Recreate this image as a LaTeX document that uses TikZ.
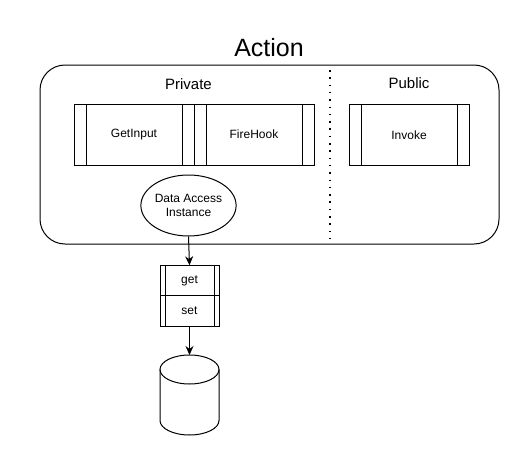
\documentclass[tikz,border=0pt]{standalone}
\usepackage{fontspec}
\setmainfont{Liberation Sans}
\usetikzlibrary{arrows.meta,positioning,shapes.geometric}

\begin{document}
\begin{tikzpicture}[x=1pt,y=-1pt]
\tikzset{process/.style={draw, line width=1pt, outer sep=0pt, minimum width=120pt, minimum height=61pt,
inner sep=0pt, font=\fontsize{12}{14}\selectfont,
path picture={\draw[line width=1pt]
([xshift=#1]path picture bounding box.north west) -- ([xshift=#1]path picture bounding box.south west)
([xshift=-#1]path picture bounding box.north east) -- ([xshift=-#1]path picture bounding box.south east);}}}
\tikzset{process/.default=12pt}
\tikzset{heading/.style={anchor=base, font=\fontsize{15}{18}\selectfont}}
\tikzset{link/.style={draw, line width=1pt, -{Stealth[length=9pt,width=8pt]}}}
\useasboundingbox (0,0) rectangle (525,450);
\node[draw, line width=1pt, rounded corners=25pt, minimum width=459pt,
minimum height=179pt] (action) at (269.5,154.5) {};
\node[anchor=base, font=\fontsize{25}{30}\selectfont] (title) at (269,56) {Action};
\node[heading] (private) at (188.5,89) {Private};
\node[heading] (public) at (409,88.5) {Public};
\coordinate (divtop) at (330,70);
\coordinate (divbot) at (330,240);
\draw[line width=1.2pt, dash pattern=on 1.5pt off 5.8pt] (divtop) -- (divbot);
\node[process] (getinput) at (134,134.5) {GetInput};
\node[process, right=0pt of getinput] (firehook) {FireHook};
\node[process] (invoke) at (409,135) {Invoke};
\node[draw, ellipse, line width=1pt, minimum width=91pt, minimum height=61pt,
inner sep=0pt, align=center, font=\fontsize{12}{14}\selectfont] (dai) at (188.5,205.5) {Data Access\\Instance};
\node[process=5pt, minimum width=59pt, minimum height=30.5pt] (get) at (189.5,280.5) {get};
\node[process=5pt, minimum width=59pt, minimum height=30.5pt, below=0pt of get] (set) {set};
% data store
\coordinate (db) at (189.5,355);
\draw[line width=1pt] (db) ++(0,14.5) ellipse [x radius=29.5, y radius=14.5];
\draw[line width=1pt] (160,369.5) -- (160,420.5) arc[start angle=180, end angle=0,
x radius=29.5, y radius=14.5] -- (219,369.5);
\draw[link] (dai.south) -- (get.north);
\draw[link] (set.south) -- (db);
\end{tikzpicture}
\end{document}
